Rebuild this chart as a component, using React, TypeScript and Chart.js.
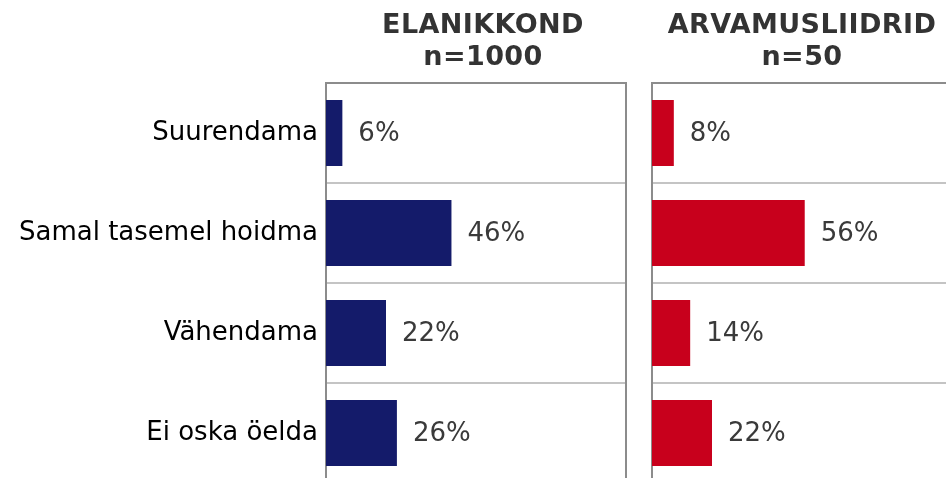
import React, { useEffect, useRef } from 'react';
import { Chart, registerables } from 'chart.js';

Chart.register(...registerables);

const categories = ['Suurendama', 'Samal tasemel hoidma', 'Vähendama', 'Ei oska öelda'];
const elanikkondValues = [6, 46, 22, 26];
const arvamusliidridValues = [8, 56, 14, 22];
const elanikkondTitle = ['ELANIKKOND', 'n=1000'];
const arvamusliidridTitle = ['ARVAMUSLIIDRID', 'n=50'];
const axisMax = 110;

const FONT = '"DejaVu Sans", Verdana, sans-serif';
const NAVY = '#141b6a';
const RED = '#c8001c';
const BORDER = '#8c8c8c';
const GRID = '#c4c4c4';

function panelPlugin(title: string[], titleShift: number) {
  return {
    id: 'panelDeco',
    afterDatasetsDraw(chart: any) {
      const { ctx, chartArea } = chart;
      const meta = chart.getDatasetMeta(0);
      ctx.save();
      // value labels
      ctx.font = `26px ${FONT}`;
      ctx.fillStyle = '#3a3a3a';
      ctx.textBaseline = 'middle';
      ctx.textAlign = 'left';
      meta.data.forEach((bar: any, i: number) => {
        const v = chart.data.datasets[0].data[i];
        ctx.fillText(`${v}%`, bar.x + 16, bar.y + 1);
      });
      // top and right border
      ctx.strokeStyle = BORDER;
      ctx.lineWidth = 2;
      ctx.beginPath();
      ctx.moveTo(chartArea.left, chartArea.top);
      ctx.lineTo(chartArea.right, chartArea.top);
      ctx.lineTo(chartArea.right, chartArea.bottom + 10);
      ctx.stroke();
      // title
      ctx.font = `bold 27px ${FONT}`;
      ctx.fillStyle = '#333333';
      ctx.textAlign = 'center';
      ctx.textBaseline = 'alphabetic';
      try {
        (ctx as any).letterSpacing = '0.4px';
      } catch (e) {}
      const cx = (chartArea.left + chartArea.right) / 2 + titleShift;
      title.forEach((t, i) => ctx.fillText(t, cx, 33 + i * 32));
      ctx.restore();
    },
  };
}

function makeChart(
  canvas: HTMLCanvasElement,
  values: number[],
  color: string,
  title: string[],
  showLabels: boolean,
  axisWidth: number,
  padRight: number,
  titleShift: number
) {
  return new Chart(canvas, {
    type: 'bar',
    data: {
      labels: categories,
      datasets: [
        {
          data: values,
          backgroundColor: color,
          borderWidth: 0,
          categoryPercentage: 1,
          barPercentage: 0.66,
        },
      ],
    },
    options: {
      indexAxis: 'y',
      responsive: false,
      animation: false,
      devicePixelRatio: 1,
      layout: { padding: { top: 83, right: padRight, bottom: 7, left: 0 } },
      plugins: {
        legend: { display: false },
        tooltip: { enabled: false },
        title: { display: false },
      },
      scales: {
        x: { display: false, min: 0, max: axisMax },
        y: {
          afterFit: (scale: any) => {
            scale.width = axisWidth;
            scale.paddingTop = 0;
            scale.paddingBottom = 0;
          },
          grid: {
            offset: true,
            drawTicks: false,
            color: GRID,
            lineWidth: 2,
          },
          border: { display: true, color: BORDER, width: 2 },
          ticks: {
            display: showLabels,
            padding: 8,
            color: '#000000',
            font: { family: FONT, size: 26 },
          },
        },
      },
    },
    plugins: [panelPlugin(title, titleShift)],
  } as any);
}

export default function App() {
  const leftRef = useRef<HTMLCanvasElement>(null);
  const rightRef = useRef<HTMLCanvasElement>(null);

  useEffect(() => {
    const c1 = makeChart(leftRef.current!, elanikkondValues, NAVY, elanikkondTitle, true, 326, 14, 7);
    const c2 = makeChart(rightRef.current!, arvamusliidridValues, RED, arvamusliidridTitle, false, 12, 8, 0);
    return () => {
      c1.destroy();
      c2.destroy();
    };
  }, []);

  return (
    <div
      style={{
        position: 'absolute',
        left: 0,
        top: 0,
        width: 946,
        height: 478,
        overflow: 'hidden',
        background: '#ffffff',
      }}
    >
      <canvas ref={leftRef} width={640} height={490} style={{ position: 'absolute', left: 0, top: 0 }} />
      <canvas ref={rightRef} width={320} height={490} style={{ position: 'absolute', left: 640, top: 0 }} />
    </div>
  );
}
